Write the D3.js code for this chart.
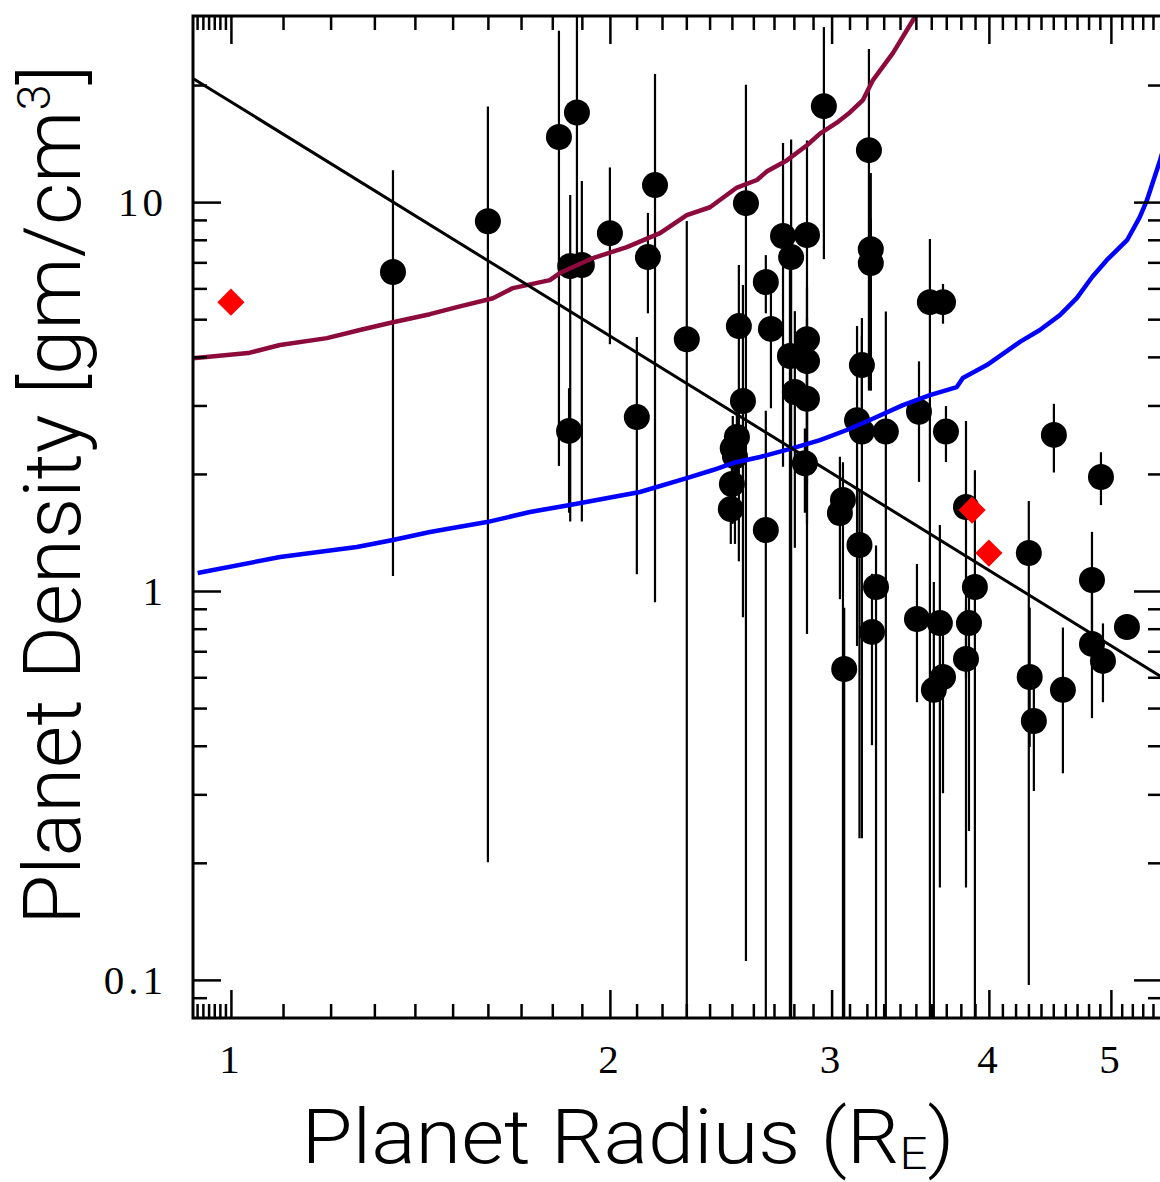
<!DOCTYPE html>
<html>
<head>
<meta charset="utf-8">
<script src="https://cdn.jsdelivr.net/npm/d3@7"></script>
<style>
body { margin: 0; background: #fff; }
</style>
</head>
<body>
<svg id="chart" width="1160" height="1182"></svg>
<script>
// planets: radius (Earth radii), density (g/cm^3) and the ends of each error bar
const radius = [1.345, 1.600, 1.822, 1.883, 1.860, 1.900, 1.856, 2.000, 2.172, 2.144,
  2.101, 2.302, 2.565, 2.660, 2.685, 2.660, 2.532, 2.551, 2.523, 2.504,
  2.514, 2.500, 2.495, 2.745, 2.868, 2.786, 2.780, 2.868, 2.868, 2.805,
  2.868, 2.857, 2.958, 3.212, 3.223, 3.223, 3.171, 3.143, 3.171, 3.313,
  3.063, 3.046, 3.157, 3.254, 3.230, 3.070, 3.591, 3.678, 3.520, 3.698,
  3.836, 3.899, 4.505, 4.910, 4.303, 4.310, 4.343, 4.580, 4.830, 4.830,
  4.928, 5.149, 3.507, 3.657, 3.857, 3.836, 3.678, 3.617];
const density = [6.61, 8.93, 14.7, 17.0, 6.85, 6.89, 2.58, 8.32, 11.06, 7.22,
  2.80, 4.44, 9.94, 6.23, 4.72, 1.435, 4.80, 3.08, 2.49, 2.33,
  2.22, 1.884, 1.625, 8.18, 8.23, 7.22, 4.02, 4.44, 3.90, 3.25,
  3.12, 2.13, 17.65, 13.6, 7.57, 6.97, 3.81, 2.75, 2.57, 2.57,
  1.714, 1.587, 1.313, 1.024, 0.785, 0.630, 5.53, 5.53, 2.89, 2.57,
  1.644, 1.024, 2.52, 1.964, 1.252, 0.601, 0.463, 0.557, 1.067, 0.731,
  0.661, 0.808, 0.847, 0.827, 0.827, 0.669, 0.601, 0.557];
const densLow = [1.10, 0.202, 2.11, 6.9, 1.52, 1.52, 1.60, 4.34, 0.942, 5.21,
  1.112, 0.05, 0.1125, 5.21, 2.97, 0.05, 1.2, 0.862, 1.9, 1.5,
  1.33, 1.5, 1.33, 2.1, 0.78, 0.05, 0.05, 2.0, 1.9, 1.30,
  1.5, 1.6, 7.18, 3.3, 3.3, 3.3, 2.6, 0.727, 0.233, 0.05,
  0.05, 0.959, 0.233, 0.05, 0.404, 0.05, 0.05, 4.9, 1.92, 2.16,
  0.6, 0.05, 2.03, 1.674, 0.0976, 0.4, 0.308, 0.342, 0.7, 0.474,
  0.521, 0.808, 0.521, 0.174, 0.243, 0.174, 0.304, 0.05];
const densHigh = [12.0, 17.5, 27.4, 40, 10.36, 11.25, 3.3, 12.2, 21.2, 9.32,
  4.47, 8.88, 19.9, 7.26, 6.2, 2.89, 6.85, 6.08, 3.0, 2.8,
  2.6, 2.2, 1.9, 14.1, 14.3, 14.4, 7.0, 6.0, 5.0, 5.21,
  4.0, 2.6, 28.0, 24.6, 11.8, 9.0, 5.0, 4.77, 4.5, 5.2,
  2.13, 2.2, 1.8, 1.3, 1.1, 0.9, 7.99, 6.12, 3.87, 2.97,
  2.72, 2.03, 3.01, 2.26, 1.694, 0.9, 0.56, 0.80, 1.41, 1.0,
  0.82, 0.808, 1.166, 1.469, 1.0, 0.9, 0.8, 1.048];

// red diamonds
const solarR = [1.0, 3.879, 4.0];
const solarRho = [5.53, 1.615, 1.252];

// maroon curve
const ironR = [0.933, 1.032, 1.094, 1.192, 1.266, 1.345, 1.439, 1.512, 1.615, 1.675,
  1.792, 1.825, 1.939, 2.063, 2.192, 2.302, 2.402, 2.523, 2.617, 2.666,
  2.764, 2.868, 2.937, 3.029, 3.102, 3.177, 3.236, 3.357, 3.482, 3.53];
const ironRho = [3.97, 4.09, 4.29, 4.47, 4.69, 4.91, 5.15, 5.37, 5.66, 6.01,
  6.30, 6.57, 7.18, 7.66, 8.32, 9.26, 9.70, 10.9, 11.4, 12.0,
  12.8, 14.0, 15.0, 16.0, 17.0, 18.3, 20.6, 24.2, 29.4, 32.0];

// blue curve
const waterR = [0.941, 1.094, 1.259, 1.345, 1.439, 1.597, 1.728, 1.859, 2.113, 2.302,
  2.415, 2.504, 2.632, 2.795, 2.937, 3.085, 3.218, 3.418, 3.591, 3.772,
  3.814, 3.985, 4.234, 4.391, 4.555, 4.699, 4.830, 4.964, 5.150, 5.270,
  5.340, 5.470, 5.550];
const waterRho = [1.112, 1.223, 1.297, 1.352, 1.418, 1.504, 1.596, 1.664, 1.797, 1.952,
  2.047, 2.133, 2.211, 2.331, 2.444, 2.594, 2.752, 3.006, 3.19, 3.345,
  3.528, 3.81, 4.37, 4.69, 5.12, 5.67, 6.41, 7.10, 7.98, 9.14,
  10.1, 12.8, 15.0];

// black fit line, ends read at the plot edges
const fitR = [0.933, 5.49];
const fitRho = [20.8, 0.60];

// ticks
const xTickValues = [1, 2, 3, 4, 5];
const xTickLabels = ["1", "2", "3", "4", "5"];
const yTickValues = [0.1, 1, 10];
const yTickLabels = ["0.1", "1", "10"];
const xMinor = d3.range(94, 100).map(v => v / 100)
  .concat(d3.range(11, 55).filter(v => v % 10 !== 0).map(v => v / 10));
const yMinor = [0.09].concat(d3.range(2, 10).map(v => v / 10), d3.range(2, 10), [20]);

const plotLeft = 193, plotRight = 1162, plotTop = 16, plotBottom = 1018;
const svg = d3.select('#chart');

const x = d3.scaleLog().domain([0.933, 5.49]).range([plotLeft, plotRight]);
const y = d3.scaleLog().domain([0.0798, 30.1]).range([plotBottom, plotTop]);

svg.append('defs').append('clipPath').attr('id', 'plot')
  .append('rect')
  .attr('x', plotLeft).attr('y', plotTop)
  .attr('width', plotRight - plotLeft).attr('height', plotBottom - plotTop);

const plot = svg.append('g').attr('clip-path', 'url(#plot)');

const planets = radius.map((r, i) => ({r: r, rho: density[i], lo: densLow[i], hi: densHigh[i]}));

// error bars
plot.selectAll('line.err')
  .data(planets)
  .enter()
  .append('line')
  .classed('err', true)
  .attr('x1', d => x(d.r)).attr('x2', d => x(d.r))
  .attr('y1', d => y(d.lo)).attr('y2', d => y(d.hi))
  .attr('stroke', '#000')
  .attr('stroke-width', 2.2)
  .attr('stroke-linecap', 'square');

plot.selectAll('circle.planet')
  .data(planets)
  .enter()
  .append('circle')
  .classed('planet', true)
  .attr('cx', d => x(d.r))
  .attr('cy', d => y(d.rho))
  .attr('r', 13)
  .attr('fill', '#000');

const line = d3.line().x(d => x(d[0])).y(d => y(d[1]));

plot.append('path')
  .datum(ironR.map((r, i) => [r, ironRho[i]]))
  .attr('d', line)
  .attr('fill', 'none')
  .attr('stroke', '#8c0a3c')
  .attr('stroke-width', 4.5)
  .attr('stroke-linejoin', 'round');

plot.append('path')
  .datum(waterR.map((r, i) => [r, waterRho[i]]))
  .attr('d', line)
  .attr('fill', 'none')
  .attr('stroke', '#0000ff')
  .attr('stroke-width', 4.5)
  .attr('stroke-linejoin', 'round');

plot.append('path')
  .datum(fitR.map((r, i) => [r, fitRho[i]]))
  .attr('d', line)
  .attr('fill', 'none')
  .attr('stroke', '#000')
  .attr('stroke-width', 3);

// red diamonds
plot.selectAll('path.solar')
  .data(solarR.map((r, i) => ({r: r, rho: solarRho[i]})))
  .enter()
  .append('path')
  .classed('solar', true)
  .attr('d', d3.symbol().type(d3.symbolSquare).size(370))
  .attr('transform', d => `translate(${x(d.r)},${y(d.rho)}) rotate(45)`)
  .attr('fill', '#ff0000');

// axes: major and minor ticks on all four sides, pointing inward
function styleAxis(g) {
  g.select('.domain').remove();
  g.selectAll('.tick line').attr('stroke', '#000').attr('stroke-width', 2.5);
  g.selectAll('.tick text')
    .attr('fill', '#000')
    .attr('font-family', '"Liberation Serif", "DejaVu Serif", serif')
    .attr('font-size', 41)
    .attr('letter-spacing', 4);
}

svg.append('g').attr('transform', `translate(0,${plotBottom})`)
  .call(d3.axisBottom(x).tickValues(xMinor).tickSize(-14).tickFormat(''))
  .call(styleAxis);
svg.append('g').attr('transform', `translate(0,${plotBottom})`)
  .call(d3.axisBottom(x).tickValues(xTickValues).tickSize(-28).tickPadding(26)
    .tickFormat((d, i) => xTickLabels[i]))
  .call(styleAxis);
svg.append('g').attr('transform', `translate(0,${plotTop})`)
  .call(d3.axisTop(x).tickValues(xMinor).tickSize(-14).tickFormat(''))
  .call(styleAxis);
svg.append('g').attr('transform', `translate(0,${plotTop})`)
  .call(d3.axisTop(x).tickValues(xTickValues).tickSize(-28).tickFormat(''))
  .call(styleAxis);

svg.append('g').attr('transform', `translate(${plotLeft},0)`)
  .call(d3.axisLeft(y).tickValues(yMinor).tickSize(-14).tickFormat(''))
  .call(styleAxis);
svg.append('g').attr('transform', `translate(${plotLeft},0)`)
  .call(d3.axisLeft(y).tickValues(yTickValues).tickSize(-28).tickPadding(26)
    .tickFormat((d, i) => yTickLabels[i]))
  .call(styleAxis);
svg.append('g').attr('transform', `translate(${plotRight},0)`)
  .call(d3.axisRight(y).tickValues(yMinor).tickSize(-14).tickFormat(''))
  .call(styleAxis);
svg.append('g').attr('transform', `translate(${plotRight},0)`)
  .call(d3.axisRight(y).tickValues(yTickValues).tickSize(-28).tickFormat(''))
  .call(styleAxis);

// frame
svg.append('rect')
  .attr('x', plotLeft).attr('y', plotTop)
  .attr('width', plotRight - plotLeft).attr('height', plotBottom - plotTop)
  .attr('fill', 'none')
  .attr('stroke', '#000')
  .attr('stroke-width', 3);

// axis titles
const xTitle = svg.append('text')
  .attr('x', 628).attr('y', 1163)
  .attr('text-anchor', 'middle')
  .attr('font-family', 'Roboto, "Liberation Sans", sans-serif')
  .attr('font-weight', 300)
  .attr('font-size', 76)
  .attr('textLength', 653)
  .attr('lengthAdjust', 'spacingAndGlyphs');
xTitle.append('tspan').text('Planet Radius (R');
xTitle.append('tspan').attr('font-size', 45).attr('dy', 6).text('E');
xTitle.append('tspan').attr('dy', -6).text(')');

const yTitle = svg.append('text')
  .attr('transform', 'translate(80,495) rotate(-90)')
  .attr('text-anchor', 'middle')
  .attr('font-family', 'Roboto, "Liberation Sans", sans-serif')
  .attr('font-weight', 300)
  .attr('font-size', 80)
  .attr('textLength', 860)
  .attr('lengthAdjust', 'spacingAndGlyphs');
yTitle.append('tspan').text('Planet Density [gm/cm');
yTitle.append('tspan').attr('font-size', 46).attr('dy', -30).text('3');
yTitle.append('tspan').attr('dy', 30).text(']');
</script>
</body>
</html>
